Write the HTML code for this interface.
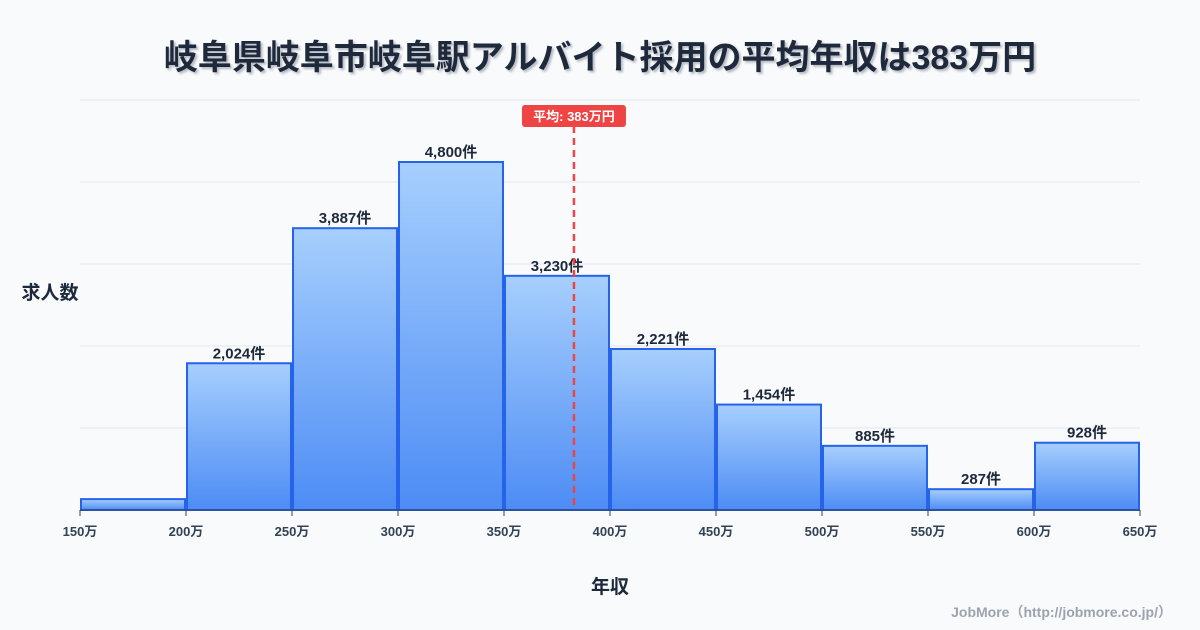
<!DOCTYPE html>
<html><head><meta charset="utf-8"><style>
body{margin:0;background:#f8fafc;font-family:"Liberation Sans","Noto Sans CJK JP",sans-serif}
#wrap{position:relative;width:1200px;height:630px;overflow:hidden}
#title{position:absolute;top:30px;left:0;width:1200px;text-align:center;font-size:34px;font-weight:bold;color:#1e293b;text-shadow:2px 2px 2px rgba(30,41,59,0.3)}
#credit{position:absolute;right:28px;top:602px;font-size:14px;font-weight:bold;color:#9ca3af}
</style></head><body>
<div id="wrap">
<div id="title">岐阜県岐阜市岐阜駅アルバイト採用の平均年収は383万円</div>
<svg id="chart" width="1200" height="630" style="position:absolute;left:0;top:0">
<defs><linearGradient id="g" x1="0" y1="0" x2="0" y2="1"><stop offset="0" stop-color="#a7cffd"/><stop offset="1" stop-color="#4d8cf5"/></linearGradient></defs>
</svg>
<div id="credit">JobMore（http://jobmore.co.jp/）</div>
</div>
<script>
const binStarts=[150,200,250,300,350,400,450,500,550,600];
const counts=[150,2024,3887,4800,3230,2221,1454,885,287,928];
const labels=["","2,024件","3,887件","4,800件","3,230件","2,221件","1,454件","885件","287件","928件"];
const ticks=[150,200,250,300,350,400,450,500,550,600,650];
const meanValue=383;
const binWidth=50;
const svg=document.getElementById('chart');
const NS='http://www.w3.org/2000/svg';
const x=v=>80+(v-150)*(1060/500);
const y=v=>510-v*0.0725;
function mk(t,a){const e=document.createElementNS(NS,t);for(const k in a)e.setAttribute(k,a[k]);svg.appendChild(e);return e;}
for(let i=1;i<=5;i++){const gy=510-82*i;const l=mk('line',{x1:80,x2:1140,y1:gy,y2:gy,stroke:'#e2e8f0','stroke-width':1});

}
binStarts.forEach((b,i)=>{
const x0=x(b)+1,x1=x(b+binWidth)-1,yt=y(counts[i]);
const r=mk('rect',{x:x0,y:yt,width:x1-x0,height:510-yt,fill:'url(#g)',stroke:'#2563eb','stroke-width':2});


if(labels[i]){const t=mk('text',{x:(x0+x1)/2,y:yt-5,'text-anchor':'middle','font-size':15,'font-weight':'bold',fill:'#1e293b'});t.textContent=labels[i];

}
});
const ax=mk('line',{x1:80,x2:1140,y1:510,y2:510,stroke:'#334155','stroke-width':1});


ticks.forEach(v=>{const l=mk('line',{x1:x(v),x2:x(v),y1:510,y2:516,stroke:'#334155','stroke-width':1});


const t=mk('text',{x:x(v),y:536,'text-anchor':'middle','font-size':13,'font-weight':'bold',fill:'#334155'});t.textContent=v+'万';

});
const mx=x(meanValue);
const ml=mk('line',{x1:mx,x2:mx,y1:126,y2:510,stroke:'#ef4444','stroke-width':2.5,'stroke-dasharray':'7,5'});


const mb=mk('rect',{x:mx-52,y:105,width:104,height:22,rx:3,fill:'#ef4444'});


const mt=mk('text',{x:mx,y:121,'text-anchor':'middle','font-size':13,'font-weight':'bold',fill:'#fff'});mt.textContent='平均: '+meanValue+'万円';


const yt=mk('text',{x:50,y:299,'text-anchor':'middle','font-size':19,'font-weight':'bold',fill:'#1e293b'});yt.textContent='求人数';


const xt=mk('text',{x:610,y:593,'text-anchor':'middle','font-size':19,'font-weight':'bold',fill:'#1e293b'});xt.textContent='年収';


</script>
</body></html>
